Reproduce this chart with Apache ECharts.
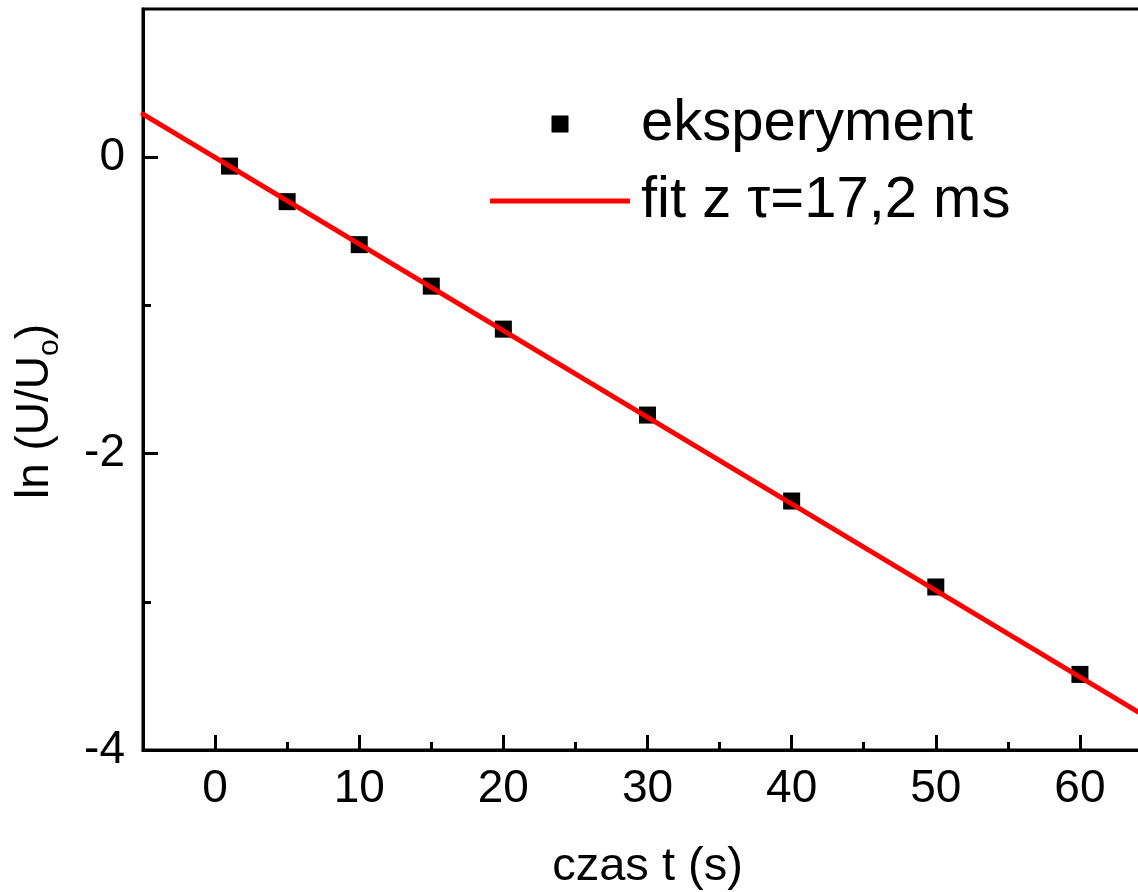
<!DOCTYPE html>
<html>
<head>
<meta charset="utf-8">
<title>ln (U/Uo) w funkcji czasu</title>
<script src="https://cdn.jsdelivr.net/npm/echarts@6/dist/echarts.min.js"></script>
<style>
html, body { margin: 0; padding: 0; background: #fff; }
#main { width: 1138px; height: 892px; }
</style>
</head>
<body>
<div id="main"></div>
<script>
// punkty pomiarowe: czas t (s) i ln(U/Uo)
var czas = [1, 5, 10, 15, 20, 30, 40, 50, 60];
var lnU = [-0.06, -0.30, -0.59, -0.87, -1.16, -1.74, -2.32, -2.90, -3.49];

// prosta dopasowania - końce
var fitT = [-5, 65];
var fitLn = [0.29, -3.80];

// podziałki osi
var xMajor = [0, 10, 20, 30, 40, 50, 60];
var xMinor = [5, 15, 25, 35, 45, 55];
var yMajor = [-4, -2, 0];
var yMinor = [-3, -1];

var FONT = 'Liberation Sans, Arial, sans-serif';

function zip(a, b) {
  return a.map(function (v, i) { return [v, b[i]]; });
}

// oś z krótkimi (pomocniczymi) kreskami, bez opisu
function minorAxis(min, max, pos, ticks) {
  return {
    type: 'value', min: min, max: max, position: pos,
    axisLine: { show: false, onZero: false, lineStyle: { color: '#000', width: 3 } },
    axisTick: { show: true, inside: true, length: 8, lineStyle: { color: '#000', width: 3 }, customValues: ticks },
    axisLabel: { show: false },
    splitLine: { show: false }
  };
}

var myChart = echarts.init(document.getElementById('main'));

myChart.setOption({
  animation: false,
  backgroundColor: '#fff',
  grid: {
    left: 143, top: 9, width: 1009, height: 741,
    outerBoundsMode: 'none',
    containLabel: false,
    show: true, borderColor: '#000', borderWidth: 3,
    backgroundColor: 'transparent'
  },
  legend: {
    orient: 'vertical',
    left: 485, top: 90,
    itemWidth: 140, itemHeight: 17, itemGap: 19,
    symbolKeepAspect: true,
    textStyle: { fontSize: 58, color: '#000', fontFamily: FONT, padding: [0, 0, 0, 6] },
    data: [
      { name: 'eksperyment', icon: 'path://M0,0L1,0L1,1L0,1Z' },
      { name: 'fit z τ=17,2 ms', icon: 'path://M0,0L140,0L140,5L0,5Z' }
    ]
  },
  xAxis: [
    {
      type: 'value', min: -5, max: 65, position: 'bottom',
      axisLine: { show: true, onZero: false, lineStyle: { color: '#000', width: 3 } },
      axisTick: { show: true, inside: true, length: 15, lineStyle: { color: '#000', width: 3 }, customValues: xMajor },
      axisLabel: { customValues: xMajor, fontSize: 46, margin: 16, color: '#000', fontFamily: FONT },
      splitLine: { show: false },
      name: 'czas t (s)', nameLocation: 'middle', nameGap: 94,
      nameTextStyle: { fontSize: 47, color: '#000', fontFamily: FONT }
    },
    minorAxis(-5, 65, 'bottom', xMinor)
  ],
  yAxis: [
    {
      type: 'value', min: -4, max: 1, position: 'left',
      axisLine: { show: true, onZero: false, lineStyle: { color: '#000', width: 3 } },
      axisTick: { show: true, inside: true, length: 15, lineStyle: { color: '#000', width: 3 }, customValues: yMajor },
      axisLabel: { customValues: yMajor, fontSize: 46, margin: 18, color: '#000', fontFamily: FONT },
      splitLine: { show: false },
      name: '{m|ln (U/U}{s|o}{m|)}', nameLocation: 'middle', nameGap: 78,
      nameTextStyle: {
        padding: [0, 64, 0, 0],
        rich: {
          m: { fontSize: 46, lineHeight: 46, verticalAlign: 'top', color: '#000', fontFamily: FONT },
          s: { fontSize: 30, lineHeight: 53, verticalAlign: 'bottom', color: '#000', fontFamily: FONT }
        }
      }
    },
    minorAxis(-4, 1, 'left', yMinor)
  ],
  series: [
    {
      name: 'eksperyment',
      type: 'scatter',
      symbol: 'rect',
      symbolSize: 17,
      itemStyle: { color: '#000', opacity: 1 },
      z: 3,
      data: zip(czas, lnU)
    },
    {
      name: 'fit z τ=17,2 ms',
      type: 'line',
      symbol: 'none',
      lineStyle: { color: '#ff0000', width: 5, cap: 'round' },
      itemStyle: { color: '#ff0000' },
      z: 4,
      data: zip(fitT, fitLn)
    }
  ]
});
</script>
</body>
</html>
